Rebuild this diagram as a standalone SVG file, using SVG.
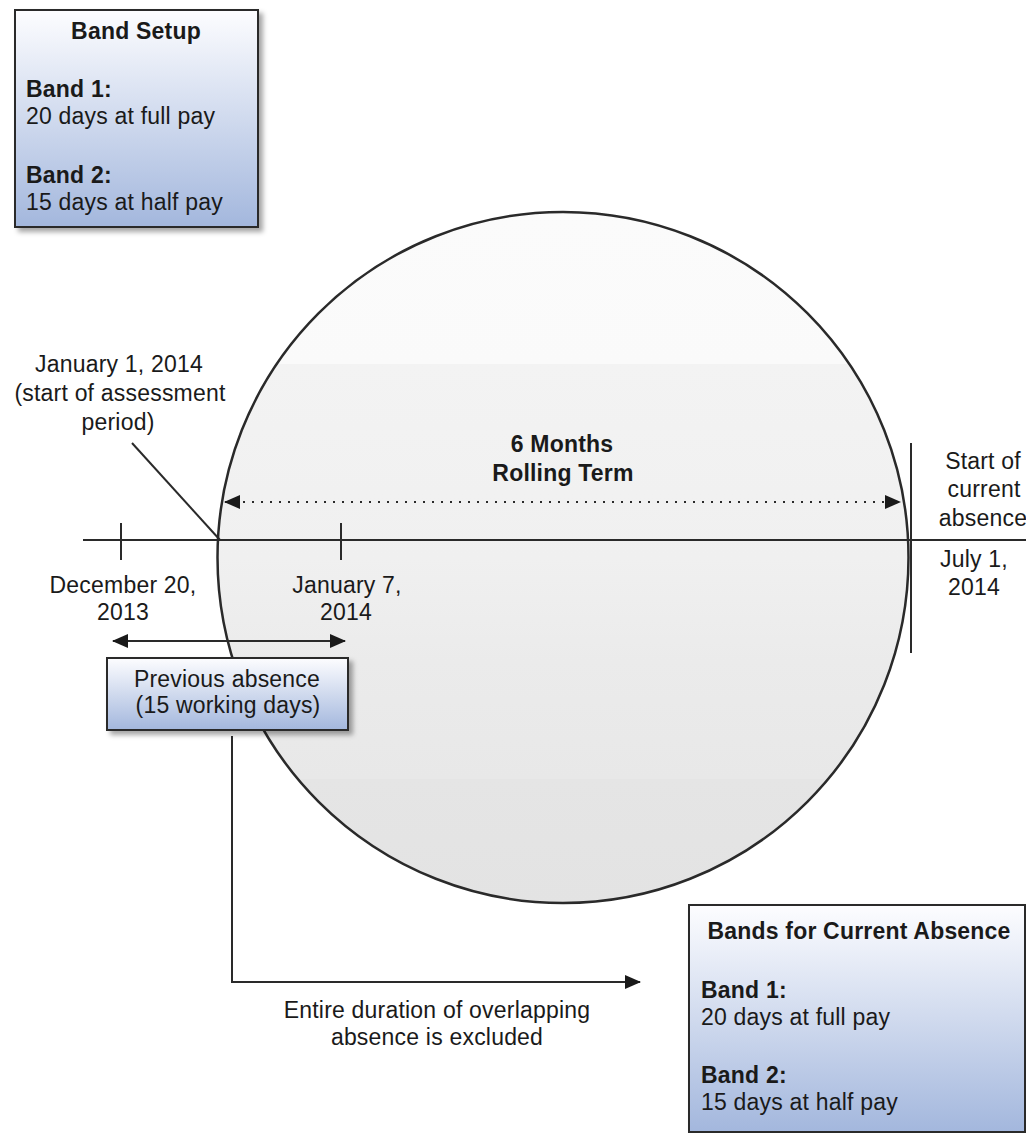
<svg xmlns="http://www.w3.org/2000/svg" width="1026" height="1133" viewBox="0 0 1026 1133">
<style>
text{font-family:"Liberation Sans",Arial,sans-serif;font-size:23px;fill:#1a1a1a;letter-spacing:0.2px}
.b{font-weight:bold}
.c{text-anchor:middle}
.ln{stroke:#2a2a2a;stroke-width:2;fill:none}
.box{stroke:#2a2a2a;stroke-width:2;fill:url(#blue)}
</style>
<defs>
<linearGradient id="blue" x1="0" y1="0" x2="0" y2="1">
<stop offset="0" stop-color="#fdfdff"/>
<stop offset="1" stop-color="#a3b7dd"/>
</linearGradient>
<linearGradient id="grey" x1="0" y1="0" x2="0" y2="1">
<stop offset="0" stop-color="#fbfbfb"/>
<stop offset="0.22" stop-color="#fafafa"/>
<stop offset="0.22" stop-color="#f3f3f3"/>
<stop offset="0.5" stop-color="#f0f0f0"/>
<stop offset="0.65" stop-color="#ebebeb"/>
<stop offset="0.82" stop-color="#e8e8e8"/>
<stop offset="0.82" stop-color="#e5e5e5"/>
<stop offset="1" stop-color="#e3e3e3"/>
</linearGradient>
<filter id="sh" x="-10%" y="-10%" width="130%" height="130%">
<feDropShadow dx="4" dy="4" stdDeviation="2.5" flood-color="#000" flood-opacity="0.35"/>
</filter>
<marker id="ah" viewBox="0 0 16 14" refX="15" refY="7" markerWidth="16" markerHeight="14" markerUnits="userSpaceOnUse" orient="auto-start-reverse">
<path d="M0,0 L16,7 L0,14 Z" fill="#1a1a1a"/>
</marker>
</defs>

<g id="rolling-term">
<circle cx="563" cy="557.5" r="345.5" fill="url(#grey)" stroke="#2a2a2a" stroke-width="2.5"/>
<text class="b c" x="562" y="452">6 Months</text>
<text class="b c" x="563" y="481">Rolling Term</text>
</g>

<g id="connectors">
<line class="ln" x1="83" y1="540" x2="1026" y2="540"/>
<line class="ln" x1="121" y1="523" x2="121" y2="560"/>
<line class="ln" x1="341" y1="523" x2="341" y2="560"/>
<line class="ln" x1="911" y1="443" x2="911" y2="653"/>
<line class="ln" x1="132" y1="443" x2="220" y2="540"/>
<line class="ln" x1="225" y1="502" x2="900" y2="502" stroke-dasharray="2 7" marker-start="url(#ah)" marker-end="url(#ah)"/>
<line class="ln" x1="113" y1="641" x2="345" y2="641" marker-start="url(#ah)" marker-end="url(#ah)"/>
<polyline class="ln" points="232,736 232,982 640,982" marker-end="url(#ah)"/>
</g>

<g id="band-setup">
<rect class="box" x="15" y="10" width="243" height="217" filter="url(#sh)"/>
<text class="b c" x="136" y="39">Band Setup</text>
<text class="b" x="26" y="97">Band 1:</text>
<text x="26" y="124">20 days at full pay</text>
<text class="b" x="26" y="183">Band 2:</text>
<text x="26" y="210">15 days at half pay</text>
</g>

<g id="label-jan1">
<text class="c" x="119" y="372">January 1, 2014</text>
<text class="c" x="120" y="401">(start of assessment</text>
<text class="c" x="118" y="430">period)</text>
</g>

<g id="label-dec20">
<text class="c" x="123" y="593">December 20,</text>
<text class="c" x="123" y="620">2013</text>
</g>

<g id="label-jan7">
<text class="c" x="347" y="593">January 7,</text>
<text class="c" x="346" y="620">2014</text>
</g>

<g id="label-start-current">
<text class="c" x="983" y="469">Start of</text>
<text class="c" x="984" y="497">current</text>
<text class="c" x="983" y="526">absence</text>
</g>

<g id="label-july1">
<text class="c" x="974" y="567">July 1,</text>
<text class="c" x="974" y="595">2014</text>
</g>

<g id="previous-absence">
<rect class="box" x="107" y="658" width="241" height="72" filter="url(#sh)"/>
<text class="c" x="227" y="687">Previous absence</text>
<text class="c" x="228" y="713">(15 working days)</text>
</g>

<g id="label-excluded">
<text class="c" x="437" y="1018">Entire duration of overlapping</text>
<text class="c" x="437" y="1045">absence is excluded</text>
</g>

<g id="bands-current">
<rect class="box" x="689" y="905" width="336" height="227" filter="url(#sh)"/>
<text class="b c" x="859" y="939">Bands for Current Absence</text>
<text class="b" x="701" y="998">Band 1:</text>
<text x="701" y="1025">20 days at full pay</text>
<text class="b" x="701" y="1083">Band 2:</text>
<text x="701" y="1110">15 days at half pay</text>
</g>
</svg>
